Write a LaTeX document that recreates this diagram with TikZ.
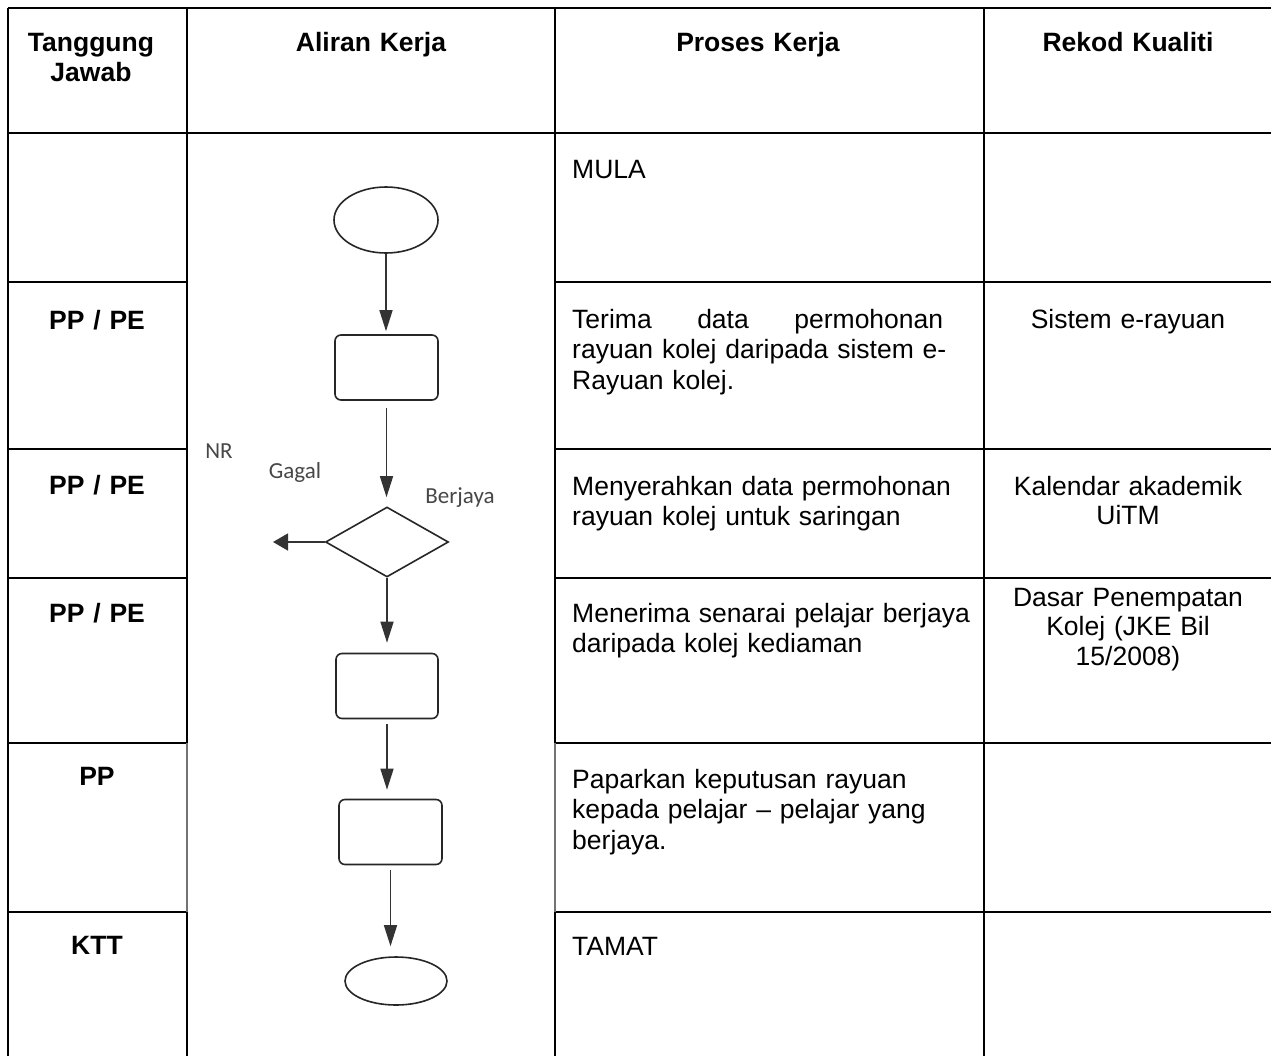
\documentclass[tikz,border=0pt]{standalone}
\usepackage{fontspec}
\setmainfont{Liberation Sans}
\newfontfamily\calfont{Carlito}
\usetikzlibrary{shapes.geometric,arrows.meta}
\begin{document}
\begin{tikzpicture}[x=1pt,y=-1pt,
  tline/.style={line width=2.6pt,black},
  tthin/.style={line width=1.2pt,black!55},
  hdr/.style={font=\fontsize{26.5}{30}\selectfont\bfseries,inner sep=0pt,align=center,text width=180pt,anchor=base},
  ctext/.style={font=\fontsize{26.5}{29.5}\selectfont,inner sep=0pt,align=center,text width=280pt,anchor=base},
  ltext/.style={font=\fontsize{26.5}{30.5}\selectfont,inner sep=0pt,align=left,text width=400pt,anchor=base west},
  term/.style={ellipse,draw=black!85,line width=1.6pt,inner sep=0pt},
  proc/.style={rectangle,rounded corners=6pt,draw=black!85,line width=1.6pt,minimum width=103pt,minimum height=65pt,inner sep=0pt},
  dec/.style={diamond,draw=black!85,line width=1.6pt,minimum width=123pt,minimum height=70pt,inner sep=0pt},
  flow/.style={draw=black!80,line width=1.5pt,-{Triangle[length=21pt,width=13pt]}},
  flowl/.style={draw=black!80,line width=1.5pt,-{Triangle[length=15pt,width=17pt]}},
  lbl/.style={font=\calfont\fontsize{23}{26}\selectfont,text=black!72,inner sep=0pt,anchor=base}
]
\fill[white] (0,0) rectangle (1271,1055);
\useasboundingbox (0,0) rectangle (1271,1055);
\begin{scope}
\clip (0,0) rectangle (1271,1055);
% horizontal lines
\draw[tline] (8,8) -- (1275,8);
\draw[tline] (8,133) -- (1275,133);
\foreach \yy in {282,449,578,743,912}{
  \draw[tline] (8,\yy) -- (187,\yy);
  \draw[tline] (555,\yy) -- (1275,\yy);
}
% vertical lines
\draw[tline] (8,8) -- (8,1060);
\draw[tline] (984,8) -- (984,1060);
\foreach \xx in {187,555}{
  \draw[tline] (\xx,8) -- (\xx,743);
  \draw[tthin] (\xx,743) -- (\xx,912);
  \draw[tline] (\xx,912) -- (\xx,1060);
}
\end{scope}
% headers
\node[hdr] (h1) at (91,51) {Tanggung\\Jawab};
\node[hdr] (h2) at (371,51) {Aliran Kerja};
\node[hdr] (h3) at (758,51) {Proses Kerja};
\node[hdr] (h4) at (1128,51) {Rekod Kualiti};
% column 1
\node[hdr] (r2a) at (97,329) {PP / PE};
\node[hdr] (r3a) at (97,494) {PP / PE};
\node[hdr] (r4a) at (97,622) {PP / PE};
\node[hdr] (r5a) at (97,785) {PP};
\node[hdr] (r6a) at (97,954) {KTT};
% column 3
\node[ltext] (r1c) at (572,178) {MULA};
\node[ltext] (r2c) at (572,328) {\hbox to 371pt{Terima\hfill data\hfill permohonan}\\rayuan kolej daripada sistem e-\\Rayuan kolej.};
\node[ltext] (r3c) at (572,495) {Menyerahkan data permohonan\\rayuan kolej untuk saringan};
\node[ltext] (r4c) at (572,622) {Menerima senarai pelajar berjaya\\daripada kolej kediaman};
\node[ltext] (r5c) at (572,788) {Paparkan keputusan rayuan\\kepada pelajar -- pelajar yang\\berjaya.};
\node[ltext] (r6c) at (572,955) {TAMAT};
% column 4
\node[ctext] (r2d) at (1128,328) {Sistem e-rayuan};
\node[ctext] (r3d) at (1128,495) {Kalendar akademik\\UiTM};
\node[ctext] (r4d) at (1128,606) {Dasar Penempatan\\Kolej (JKE Bil\\15/2008)};
% flowchart
\node[term,minimum width=104pt,minimum height=66pt] (start) at (386,220) {};
\node[proc] (box1) at (386.5,367.5) {};
\node[dec] (dia) at (387,542) {};
\node[proc,minimum width=102pt] (box2) at (387,686) {};
\node[proc] (box3) at (390.5,832) {};
\node[term,minimum width=102pt,minimum height=48pt] (end) at (396,981) {};
\coordinate (nr) at (273,542);
\draw[flow,shorten >=3pt] (start.south) -- (start.south |- box1.north);
\draw[flow,shorten <=7pt,shorten >=9pt] (box1.south) -- (box1.south |- dia.north);
\draw[flow,shorten >=10pt] (dia.south) -- (dia.south |- box2.north);
\draw[flow,shorten <=5pt,shorten >=9pt] (box2.south) -- (box2.south |- box3.north);
\draw[flow,shorten <=5pt,shorten >=10pt] (box3.south) -- (box3.south |- end.north);
\draw[flowl] (dia.west) -- (nr);
\node[lbl] (lnr) at (219,458) {NR};
\node[lbl] (lgagal) at (295,478) {Gagal};
\node[lbl] (lberjaya) at (460,503) {Berjaya};
\end{tikzpicture}
\end{document}
